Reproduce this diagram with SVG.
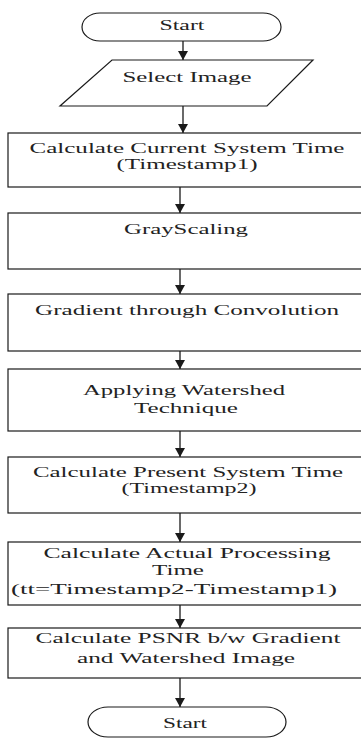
<svg xmlns="http://www.w3.org/2000/svg" width="361" height="740" viewBox="0 0 361 740">
<style>
.s{fill:#fff;stroke:#1a1a1a;stroke-width:1.2}
.t{font-family:'Liberation Serif','DejaVu Serif',serif;font-size:15px;font-weight:normal;fill:#222;text-anchor:middle}
.c{stroke:#1a1a1a;stroke-width:1.3;fill:none}
</style>
<defs>
<marker id="ah" markerWidth="9" markerHeight="10" refX="9" refY="5" orient="auto" markerUnits="userSpaceOnUse"><path d="M0,0 L9,5 L0,10 Z" fill="#1a1a1a"/></marker>
</defs>
<rect width="361" height="740" fill="#fff"/>
<g id="connectors">
<line class="c" x1="183" y1="41" x2="183" y2="60" marker-end="url(#ah)"/>
<line class="c" x1="183" y1="106" x2="183" y2="133" marker-end="url(#ah)"/>
<line class="c" x1="180" y1="187" x2="180" y2="213" marker-end="url(#ah)"/>
<line class="c" x1="180" y1="269" x2="180" y2="294" marker-end="url(#ah)"/>
<line class="c" x1="180" y1="351" x2="180" y2="369" marker-end="url(#ah)"/>
<line class="c" x1="180" y1="431" x2="180" y2="457" marker-end="url(#ah)"/>
<line class="c" x1="180" y1="513" x2="180" y2="542" marker-end="url(#ah)"/>
<line class="c" x1="180" y1="605" x2="180" y2="628" marker-end="url(#ah)"/>
<line class="c" x1="180" y1="678" x2="180" y2="707" marker-end="url(#ah)"/>
</g>
<g id="start">
<rect class="s" x="82" y="13" width="199" height="28" rx="18" ry="14"/>
<text class="t" x="182" y="30" textLength="45" lengthAdjust="spacingAndGlyphs">Start</text>
</g>
<g id="select-image">
<polygon class="s" points="112,60 313,60 267,106 60,106"/>
<text class="t" x="187" y="82" textLength="129" lengthAdjust="spacingAndGlyphs">Select Image</text>
</g>
<g id="timestamp1">
<rect class="s" x="8" y="133" width="370" height="54"/>
<text class="t" x="187" y="153" textLength="315" lengthAdjust="spacingAndGlyphs">Calculate Current System Time</text>
<text class="t" x="187" y="169" textLength="141" lengthAdjust="spacingAndGlyphs">(Timestamp1)</text>
</g>
<g id="grayscaling">
<rect class="s" x="8" y="213" width="370" height="56"/>
<text class="t" x="186" y="234" textLength="124" lengthAdjust="spacingAndGlyphs">GrayScaling</text>
</g>
<g id="gradient">
<rect class="s" x="8" y="294" width="370" height="57"/>
<text class="t" x="187" y="315" textLength="304" lengthAdjust="spacingAndGlyphs">Gradient through Convolution</text>
</g>
<g id="watershed">
<rect class="s" x="8" y="369" width="370" height="62"/>
<text class="t" x="184" y="395" textLength="202" lengthAdjust="spacingAndGlyphs">Applying Watershed</text>
<text class="t" x="186" y="413" textLength="104" lengthAdjust="spacingAndGlyphs">Technique</text>
</g>
<g id="timestamp2">
<rect class="s" x="8" y="457" width="370" height="56"/>
<text class="t" x="188" y="477" textLength="310" lengthAdjust="spacingAndGlyphs">Calculate Present System Time</text>
<text class="t" x="189" y="493" textLength="135" lengthAdjust="spacingAndGlyphs">(Timestamp2)</text>
</g>
<g id="processing-time">
<rect class="s" x="8" y="542" width="370" height="63"/>
<text class="t" x="187" y="558" textLength="287" lengthAdjust="spacingAndGlyphs">Calculate Actual Processing</text>
<text class="t" x="178" y="575" textLength="52" lengthAdjust="spacingAndGlyphs">Time</text>
<text class="t" x="174" y="594" textLength="326" lengthAdjust="spacingAndGlyphs">(tt=Timestamp2-Timestamp1)</text>
</g>
<g id="psnr">
<rect class="s" x="8" y="628" width="370" height="50"/>
<text class="t" x="188" y="643" textLength="305" lengthAdjust="spacingAndGlyphs">Calculate PSNR b/w Gradient</text>
<text class="t" x="186" y="663" textLength="218" lengthAdjust="spacingAndGlyphs">and Watershed Image</text>
</g>
<g id="end">
<rect class="s" x="88" y="707" width="198" height="30" rx="20" ry="15"/>
<text class="t" x="185" y="728" textLength="44" lengthAdjust="spacingAndGlyphs">Start</text>
</g>
</svg>
